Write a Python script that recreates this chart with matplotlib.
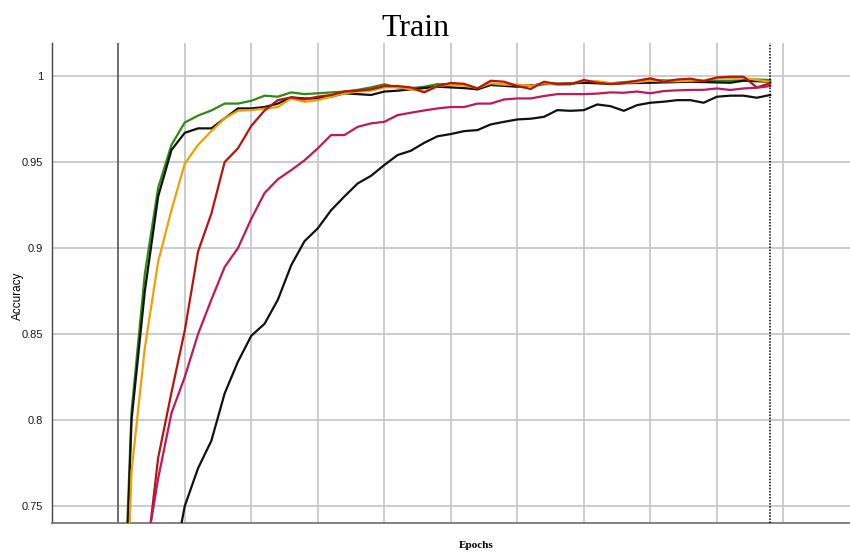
import matplotlib
matplotlib.use("Agg")
import matplotlib.pyplot as plt
import numpy as np

epochs = list(range(0, 100, 2))

green = [0.60, 0.805, 0.885, 0.935, 0.960, 0.973, 0.977, 0.980, 0.984, 0.984,
         0.9856, 0.9886, 0.988, 0.9905, 0.9895, 0.990, 0.9905, 0.991, 0.992, 0.9934,
         0.9952, 0.9934, 0.993, 0.9938, 0.9953, 0.9953, 0.9948, 0.9923, 0.9953, 0.995,
         0.9948, 0.9942, 0.9958, 0.9955, 0.9953, 0.9967, 0.9965, 0.9958, 0.9965, 0.997,
         0.9977, 0.9975, 0.9973, 0.9973, 0.9973, 0.9973, 0.9973, 0.9975, 0.998, 0.9977]

black1 = [0.58, 0.80, 0.875, 0.93, 0.957, 0.967, 0.9696, 0.9696, 0.9754, 0.9812,
          0.9812, 0.982, 0.984, 0.9876, 0.987, 0.987, 0.988, 0.990, 0.9895, 0.989,
          0.991, 0.9915, 0.9923, 0.993, 0.9938, 0.9934, 0.993, 0.9923, 0.9948, 0.9943,
          0.9938, 0.9945, 0.9953, 0.9955, 0.9958, 0.9961, 0.9958, 0.9955, 0.9958, 0.996,
          0.9961, 0.9963, 0.9965, 0.9967, 0.9965, 0.9963, 0.9961, 0.9973, 0.997, 0.9967]

orange = [0.55, 0.770, 0.842, 0.892, 0.922, 0.949, 0.960, 0.968, 0.9754, 0.9798,
          0.9802, 0.981, 0.982, 0.987, 0.985, 0.986, 0.988, 0.990, 0.991, 0.9915,
          0.9935, 0.9935, 0.9923, 0.991, 0.9942, 0.995, 0.9945, 0.993, 0.9958, 0.995,
          0.995, 0.9942, 0.9958, 0.995, 0.9955, 0.9973, 0.997, 0.9958, 0.996, 0.9965,
          0.9973, 0.997, 0.997, 0.9973, 0.9975, 0.999, 0.999, 0.999, 0.9977, 0.9967]

red = [0.45, 0.60, 0.711, 0.778, 0.816, 0.852, 0.898, 0.920, 0.950, 0.958,
       0.971, 0.980, 0.986, 0.9876, 0.9864, 0.988, 0.989, 0.991, 0.9915, 0.9923,
       0.9942, 0.9942, 0.9934, 0.9905, 0.9942, 0.996, 0.9955, 0.9928, 0.9973, 0.9967,
       0.9942, 0.9925, 0.9967, 0.9953, 0.9953, 0.9977, 0.9961, 0.9953, 0.996, 0.9973,
       0.9987, 0.9967, 0.998, 0.9985, 0.997, 0.9992, 0.9996, 0.9996, 0.9934, 0.9958]

magenta = [0.45, 0.60, 0.719, 0.766, 0.804, 0.825, 0.850, 0.870, 0.889, 0.900,
           0.917, 0.932, 0.940, 0.9453, 0.951, 0.958, 0.9657, 0.9657, 0.9705, 0.9725,
           0.9734, 0.9773, 0.9787, 0.980, 0.9812, 0.982, 0.982, 0.984, 0.984, 0.9864,
           0.987, 0.987, 0.9884, 0.9895, 0.9895, 0.9895, 0.9898, 0.9905, 0.9903, 0.991,
           0.990, 0.9913, 0.9917, 0.9919, 0.992, 0.9928, 0.9919, 0.9928, 0.9932, 0.9942]

black2 = [0.45, 0.55, 0.62, 0.67, 0.709, 0.75, 0.772, 0.788, 0.8155, 0.834,
          0.849, 0.856, 0.870, 0.890, 0.904, 0.9115, 0.922, 0.930, 0.9376, 0.942,
          0.9483, 0.9541, 0.9566, 0.9612, 0.965, 0.9663, 0.968, 0.9686, 0.9719, 0.9734,
          0.9748, 0.9752, 0.9763, 0.9802, 0.9798, 0.9802, 0.9835, 0.9825, 0.9798, 0.9831,
          0.9845, 0.9851, 0.986, 0.986, 0.9845, 0.988, 0.9886, 0.9886, 0.9874, 0.989]

yticks = [0.75, 0.8, 0.85, 0.9, 0.95, 1.0]
ytick_labels = ["0.75", "0.8", "0.85", "0.9", "0.95", "1"]
xgrid = [10, 20, 30, 40, 50, 60, 70, 80, 90, 100]
end_epoch = 98

fig = plt.figure(figsize=(8.5, 5.53), dpi=100)
ax = fig.add_axes([51.7 / 850, 1 - 523.3 / 553, 1 - 51.7 / 850, (523.3 - 42.7) / 553])

ax.set_xlim(-10, 110)
ax.set_ylim(0.740, 1.0194)

for v in yticks:
    ax.axhline(v, color="#c8c8c8", lw=1.3, zorder=1)
for v in xgrid:
    ax.axvline(v, color="#c8c8c8", lw=1.3, zorder=1)
ax.axvline(0, color="#555555", lw=1.2, zorder=1)

series = [
    (green, "#2f8a12"),
    (black1, "#111111"),
    (orange, "#f0a000"),
    (red, "#b8140e"),
    (magenta, "#c0185a"),
    (black2, "#111111"),
]
for vals, col in series:
    ax.plot(epochs, vals, color=col, lw=1.6, zorder=3, solid_joinstyle="round")

ax.axvline(end_epoch, color="black", lw=1.1, ls=(0, (1, 1)), zorder=4)

for s in ["top", "right"]:
    ax.spines[s].set_visible(False)
ax.spines["left"].set_color("#444444")
ax.spines["bottom"].set_color("#777777")
ax.spines["left"].set_linewidth(1.0)
ax.spines["bottom"].set_linewidth(1.3)

ax.set_yticks(yticks)
ax.set_yticklabels(ytick_labels, fontsize=8, family="Liberation Sans", color="#1a1a1a")
ax.tick_params(axis="y", length=0, pad=6)
ax.set_xticks([])

fig.text(415 / 850, 1 - 28 / 553, "Train", ha="center", va="center",
         family="Liberation Serif", fontsize=23)
fig.text(476 / 850, 1 - 546 / 553, "Epochs", ha="center", va="center",
         family="Liberation Serif", fontsize=8, fontweight="bold")
fig.text(18 / 850, 1 - 296 / 553, "Accuracy", ha="center", va="center",
         rotation=90, family="Liberation Sans", fontsize=8.5)

fig.savefig("out.png", dpi=100)
